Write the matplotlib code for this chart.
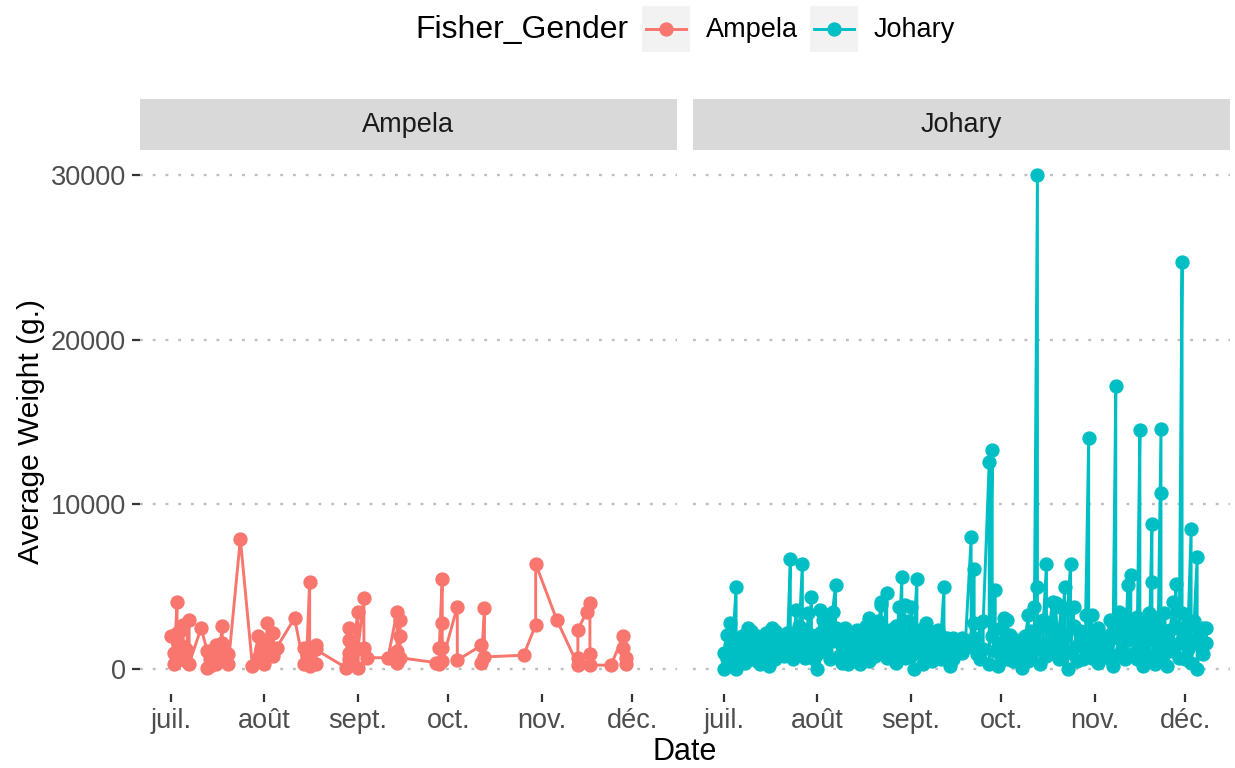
import pandas as pd
import matplotlib
matplotlib.use('Agg')
import matplotlib.pyplot as plt
from matplotlib.patches import Rectangle
from matplotlib.lines import Line2D

plt.rcParams['font.family'] = ['Liberation Sans', 'DejaVu Sans']

# ---- data (day offsets from 1 July, weights in g.) ----
start_date = '2020-07-01'
month_ticks = ['2020-07-01', '2020-08-01', '2020-09-01',
               '2020-10-01', '2020-11-01', '2020-12-01']
month_labels = ['juil.', 'août', 'sept.', 'oct.', 'nov.', 'déc.']
y_ticks = [0, 10000, 20000, 30000]
groups = ['Ampela', 'Johary']
colors = ['#F8766D', '#00BFC4']

ampela_days = [0, 1, 1, 2, 2, 2, 3, 3, 4, 4, 5, 5, 6, 6, 10, 12, 12, 13, 13, 14, 14,
               15, 15, 16, 16, 17, 17, 19, 19, 23, 27, 29, 29, 30, 30, 31, 31, 32, 32,
               33, 34, 34, 35, 41, 44, 44, 45, 46, 46, 46, 48, 48, 48, 58, 59, 59, 59,
               59, 60, 60, 62, 62, 62, 64, 64, 65, 72, 75, 75, 75, 76, 76, 76, 88, 89,
               89, 90, 90, 90, 90, 95, 95, 103, 103, 104, 104, 117, 121, 121, 128, 135,
               135, 135, 138, 139, 139, 139, 146, 150, 150, 151, 151]
ampela_weight = [2000, 1000, 300, 4100, 2200, 600, 1500, 2300, 2700, 800, 500, 1200,
                 3000, 350, 2500, 1100, 100, 600, 200, 800, 400, 1450, 300, 500, 1000,
                 2600, 1600, 900, 300, 7900, 200, 2000, 700, 1200, 500, 1700, 300, 2800,
                 1600, 1000, 2200, 800, 1300, 3100, 300, 1300, 800, 5300, 700, 200, 1500,
                 300, 1200, 100, 2500, 1800, 600, 1000, 1500, 300, 3500, 100, 1200, 4300,
                 1300, 700, 700, 3500, 1100, 400, 3000, 2000, 700, 400, 350, 1300, 5500,
                 2800, 1300, 500, 3800, 550, 1450, 400, 3700, 750, 850, 2700, 6400, 3000,
                 250, 700, 2400, 3500, 4000, 950, 250, 250, 2000, 1300, 700, 350]

johary_days = [0, 0, 1, 1, 2, 2, 3, 3, 4, 4, 4,
               5, 5, 6, 6, 7, 7, 8, 8, 9, 9,
               10, 10, 11, 11, 12, 12, 13, 13, 14, 14,
               15, 15, 16, 16, 17, 17, 18, 18, 19, 19,
               20, 20, 21, 21, 22, 22, 23, 23, 24, 24,
               25, 25, 26, 26, 27, 27, 28, 28, 29, 29,
               30, 30, 31, 31, 32, 32, 33, 33, 34, 34,
               35, 35, 36, 36, 37, 37, 38, 38, 39, 39,
               40, 40, 41, 41, 42, 42, 43, 43, 44, 44,
               45, 45, 46, 46, 47, 47, 48, 48, 49, 49,
               50, 50, 51, 51, 52, 52, 53, 53, 54, 54,
               55, 55, 56, 56, 57, 57, 58, 58, 59, 59,
               60, 60, 61, 61, 62, 62, 63, 63, 64, 64,
               65, 65, 66, 66, 67, 67, 68, 68, 69, 69,
               70, 70, 71, 71, 72, 72, 73, 73, 74, 74,
               75, 75, 76, 76, 77, 79, 79, 80,
               82, 82, 83, 83, 83, 84, 84, 85, 85, 86, 86,
               88, 88, 89, 89, 90, 90, 91, 91, 92, 92,
               93, 93, 94, 94, 95, 95, 96, 96, 97, 97,
               98, 99, 99, 100, 100, 101, 101, 101, 102, 102,
               103, 103, 104, 104, 104, 105, 105, 106, 106,
               107, 107, 108, 108, 109, 109, 110, 110, 111, 111,
               112, 112, 113, 113, 114, 114, 115, 115, 116, 116,
               117, 117, 118, 118, 119, 119, 120, 120, 121, 121,
               122, 122, 123, 123, 124, 124, 125, 125, 127, 127,
               128, 128, 129, 129, 130, 130, 131, 131, 132, 132,
               133, 133, 134, 134, 135, 135, 136, 136, 137, 137,
               138, 138, 139, 139, 140, 140, 141, 141, 142, 142, 142,
               143, 143, 144, 144, 145, 145, 145, 146, 146,
               147, 147, 148, 148, 149, 149, 150, 150, 151, 151,
               152, 152, 153, 153, 154, 154, 155, 155, 156, 156,
               157, 157, 158, 158, 159, 159, 160, 160]
johary_weight = [0, 1000, 2100, 600, 2800, 1500, 1100, 1900, 5000, 300, 0,
                 1800, 900, 2000, 1200, 1500, 400, 2500, 1700, 800, 2300,
                 1600, 1100, 2000, 500, 1900, 300, 1300, 600, 2200, 900,
                 1700, 200, 2500, 1200, 600, 2300, 1500, 1900, 1000, 2000,
                 1400, 800, 2200, 1300, 6700, 2200, 600, 1800, 3600, 1300,
                 900, 2600, 6400, 1600, 2400, 700, 3400, 1200, 4400, 2100,
                 1500, 600, 0, 900, 3600, 2200, 1800, 3000, 3300, 1100,
                 2700, 600, 1700, 3500, 5100, 2500, 800, 2000, 1400, 400,
                 2500, 900, 1800, 300, 1200, 2200, 600, 1600, 2400, 1000,
                 1700, 300, 800, 2000, 1300, 2600, 3100, 500, 1900, 1200,
                 800, 2300, 2900, 1500, 4100, 3900, 1000, 2200, 4600, 700,
                 1600, 2400, 900, 1800, 2600, 400, 3800, 1300, 5600, 2000,
                 3900, 700, 1500, 2900, 800, 3800, 0, 2100, 5500, 1200,
                 1000, 2400, 300, 1600, 2800, 900, 1900, 2300, 1300, 500,
                 700, 1700, 2400, 1100, 600, 2000, 5000, 1400, 900, 1900,
                 200, 1000, 1900, 600, 1500, 1000, 1900, 1300,
                 8000, 1800, 6100, 1900, 2800, 900, 1500, 2800, 600, 1200, 2900,
                 12600, 300, 13300, 2000, 4800, 1100, 1400, 200, 800, 2500,
                 3100, 1700, 600, 3000, 1100, 2100, 1600, 500, 1800, 900,
                 1300, 600, 100, 1100, 2000, 3300, 1700, 500, 2300, 800,
                 1500, 3800, 30000, 5000, 1200, 2600, 300, 1500, 3000,
                 6400, 800, 900, 2600, 4100, 1500, 1800, 4000, 600, 2300,
                 3700, 1200, 5000, 2000, 0, 3700, 6400, 1000, 3800, 2600,
                 1400, 500, 1700, 2300, 600, 1900, 2000, 3300, 14000, 1100,
                 3300, 700, 1300, 2200, 2500, 400, 900, 1600, 2000, 1500,
                 3000, 600, 1900, 200, 17200, 2700, 3500, 900, 1300, 2400,
                 3300, 600, 5100, 1800, 5700, 2800, 2400, 1000, 3200, 600,
                 14500, 1600, 2800, 200, 2400, 1000, 3400, 700, 8800, 5300, 1800,
                 2600, 300, 3200, 1300, 14600, 10700, 600, 2300, 3400,
                 1800, 200, 1100, 2400, 4100, 1300, 5200, 2600, 1600, 700,
                 24700, 3400, 2000, 600, 1200, 2700, 8500, 400, 1800, 2900,
                 6800, 0, 1500, 2100, 2500, 900, 1600, 2500]

series_days = [ampela_days, johary_days]
series_weight = [ampela_weight, johary_weight]

# ---- layout (pixels of a 1235x768 canvas) ----
W, H = 1235, 768


def fr(x0, y0, x1, y1):
    # pixel box (top-left origin) -> figure fraction [l, b, w, h]
    return [x0 / W, 1 - y1 / H, (x1 - x0) / W, (y1 - y0) / H]


fig = plt.figure(figsize=(W / 100, H / 100), dpi=100)
fig.patch.set_facecolor('white')

t0 = pd.Timestamp(start_date)
xlim = (t0 + pd.Timedelta(days=-10.3), t0 + pd.Timedelta(days=167.9))
ticks = pd.to_datetime(month_ticks)

small = 19.5
big = 22
lw = 2.1
ms = 9.3

panel_x = [(140, 677), (693, 1230)]
for i, (x0, x1) in enumerate(panel_x):
    ax = fig.add_axes(fr(x0, 150, x1, 694))
    strip = fig.add_axes(fr(x0, 99, x1, 150))
    strip.set_facecolor('#D9D9D9')
    strip.set_xticks([])
    strip.set_yticks([])
    for s in strip.spines.values():
        s.set_visible(False)
    strip.text(0.5, 0.5, groups[i], ha='center', va='center',
               fontsize=small, color='#1A1A1A', transform=strip.transAxes)

    dates = t0 + pd.to_timedelta(series_days[i], unit='D')
    ax.plot(dates, series_weight[i], '-o', color=colors[i], lw=lw,
            ms=ms, zorder=3)

    ax.set_xlim(xlim)
    ax.set_ylim(-1500, 31500)
    ax.set_xticks(ticks)
    ax.set_xticklabels(month_labels)
    ax.set_yticks(y_ticks)
    ax.tick_params(axis='both', length=6, width=1.6, color='#333333',
                   labelcolor='#4D4D4D', labelsize=small, pad=4)
    if i == 0:
        ax.set_yticklabels([str(v) for v in y_ticks])
    else:
        ax.tick_params(axis='y', length=0, labelleft=False)
    ax.grid(axis='y', color='#BEBEBE', lw=1.7, linestyle=(0, (1.2, 4.2)))
    ax.grid(axis='x', visible=False)
    ax.set_axisbelow(True)
    for s in ax.spines.values():
        s.set_visible(False)

fig.text(31 / W, 1 - 432 / H, 'Average Weight (g.)', rotation=90,
         ha='center', va='center', fontsize=21.5, color='black')
fig.text(685 / W, 1 - 752 / H, 'Date', ha='center', va='center',
         fontsize=big, color='black')

# ---- legend on top ----
fig.text(415 / W, 1 - 30 / H, 'Fisher_Gender', ha='left', va='center',
         fontsize=23, color='black')
key_x = [(642, 690), (810, 858)]
label_x = [706, 874]
for i in range(2):
    kx0, kx1 = key_x[i]
    fig.add_artist(Rectangle((kx0 / W, 1 - 52 / H), (kx1 - kx0) / W, 46 / H,
                             transform=fig.transFigure, facecolor='#F2F2F2',
                             edgecolor='none'))
    fig.add_artist(Line2D([(kx0 + 4) / W, (kx1 - 4) / W], [1 - 29 / H, 1 - 29 / H],
                          transform=fig.transFigure, color=colors[i], lw=lw))
    fig.add_artist(Line2D([(kx0 + kx1) / 2 / W], [1 - 29 / H],
                          transform=fig.transFigure, color=colors[i],
                          marker='o', ms=ms, lw=0))
    fig.text(label_x[i] / W, 1 - 30 / H, groups[i], ha='left', va='center',
             fontsize=small, color='black')

fig.savefig('out.png', dpi=100)
